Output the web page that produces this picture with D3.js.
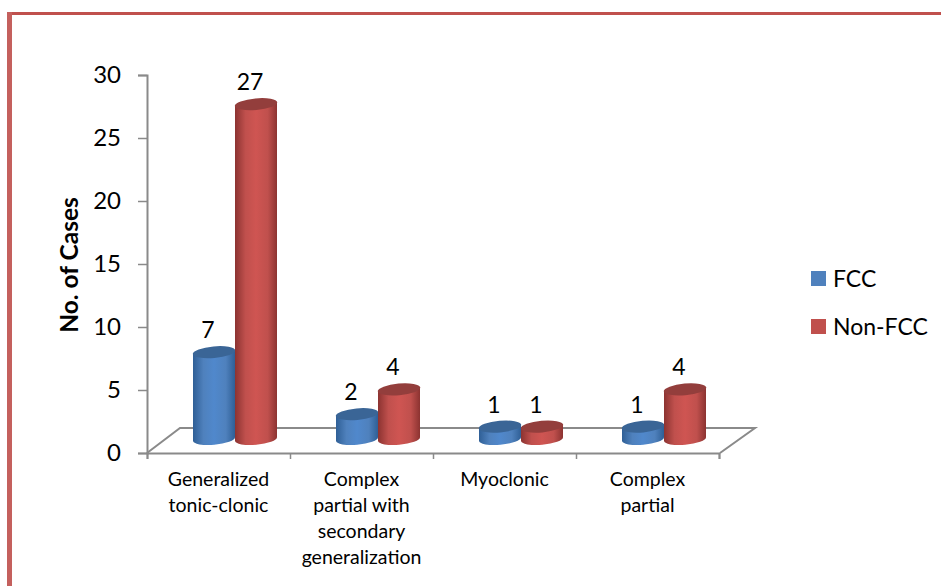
<!DOCTYPE html>
<html>
<head>
<meta charset="utf-8">
<script src="https://cdn.jsdelivr.net/npm/d3@7"></script>
<style>
  html, body { margin: 0; padding: 0; background: #fff; }
  svg { display: block; }
  text { font-family: Lato, "Open Sans", sans-serif; fill: #000; }
</style>
</head>
<body>
<svg id="chart" width="941" height="586"></svg>
<script>
const categories = [
  ['Generalized', 'tonic-clonic'],
  ['Complex', 'partial with', 'secondary', 'generalization'],
  ['Myoclonic'],
  ['Complex', 'partial']
]
const seriesNames = ['FCC', 'Non-FCC']
const fccValues = [7, 2, 1, 1]
const nonFccValues = [27, 4, 1, 4]
const yTicks = [0, 5, 10, 15, 20, 25, 30]

const colors = {
  'FCC': { mid: '#4f81bd', edge: '#2f5f96', light: '#5088cc', top: '#3a6596' },
  'Non-FCC': { mid: '#c0504d', edge: '#8c3331', light: '#cf5552', top: '#933e3c' }
}

const svg = d3.select('#chart')
const axisColor = '#8a8a8a'

// frame
svg.append('rect').attr('x', 7).attr('y', 12).attr('width', 934).attr('height', 3).attr('fill', '#c0504d')
svg.append('rect').attr('x', 7).attr('y', 12).attr('width', 5).attr('height', 574).attr('fill', '#c4605d')

const plotLeft = 147
const plotRight = 719
const plotTop = 75
const plotBottom = 453
const depthX = 34
const depthY = 25

const y = d3.scaleLinear().domain([0, 30]).range([plotBottom, plotTop])
const xAxisScale = d3.scaleLinear().domain([0, 4]).range([plotLeft, plotRight])
const x0 = d3.scaleBand().domain(d3.range(categories.length)).range([plotLeft, plotRight])
// bars stand mid-way into the floor, so they sit right of and above the axis
const x1 = d3.scaleBand().domain(seriesNames).range([46, 130]).paddingInner(0)
const barY = d3.scaleLinear().domain([0, 30]).range([439, 67])

// floor
svg.append('path')
  .attr('d', `M${plotLeft},${plotBottom}L${plotLeft + depthX - 1},${plotBottom - depthY}H${plotRight + depthX + 2}L${plotRight + 1},${plotBottom}`)
  .attr('fill', 'none')
  .attr('stroke', axisColor)
  .attr('stroke-width', 2)

const yAxis = svg.append('g')
  .attr('transform', `translate(${plotLeft},0)`)
  .call(d3.axisLeft(y).tickValues(yTicks).tickSize(9).tickPadding(17))
const xAxis = svg.append('g')
  .attr('transform', `translate(0,${plotBottom})`)
  .call(d3.axisBottom(xAxisScale).ticks(4).tickSize(6).tickFormat(''))
svg.selectAll('.domain').attr('stroke', axisColor).attr('stroke-width', 2)
svg.selectAll('.tick line').attr('stroke', axisColor).attr('stroke-width', 1.5)
yAxis.selectAll('text').attr('font-size', 24).style('font-family', 'Lato, sans-serif').attr('fill', '#000')

svg.append('text')
  .attr('transform', 'translate(78,265) rotate(-90)')
  .attr('text-anchor', 'middle')
  .attr('font-size', 24.5)
  .attr('font-weight', 700)
  .text('No. of Cases')

// gradients
const defs = svg.append('defs')
seriesNames.forEach((name, i) => {
  const c = colors[name]
  const g = defs.append('linearGradient').attr('id', 'cyl' + i)
  g.append('stop').attr('offset', '0%').attr('stop-color', c.edge)
  g.append('stop').attr('offset', '25%').attr('stop-color', c.mid)
  g.append('stop').attr('offset', '50%').attr('stop-color', c.light)
  g.append('stop').attr('offset', '78%').attr('stop-color', c.mid)
  g.append('stop').attr('offset', '100%').attr('stop-color', c.edge)
})

const rows = d3.range(categories.length).flatMap(i => [
  { cat: i, name: 'FCC', value: fccValues[i], s: 0 },
  { cat: i, name: 'Non-FCC', value: nonFccValues[i], s: 1 }
])

const tiltDeg = -5
const tilt = 1.8
const ry = 5.8
const bars = svg.append('g').selectAll('g').data(rows).join('g')
  .attr('transform', d => `translate(${x0(d.cat) + x1(d.name)},0)`)

bars.append('path')
  .attr('fill', d => `url(#cyl${d.s})`)
  .attr('d', d => {
    const w = x1.bandwidth()
    const yb = barY(0)
    const yt = barY(d.value)
    return `M0,${yt + tilt}L0,${yb + tilt}A${w / 2},${ry} ${tiltDeg} 0 0 ${w},${yb - tilt}L${w},${yt - tilt}Z`
  })

bars.append('ellipse')
  .attr('cx', x1.bandwidth() / 2)
  .attr('cy', d => barY(d.value))
  .attr('rx', x1.bandwidth() / 2 + 0.3)
  .attr('ry', ry)
  .attr('transform', d => `rotate(${tiltDeg} ${x1.bandwidth() / 2} ${barY(d.value)})`)
  .attr('fill', d => colors[d.name].top)

bars.append('text')
  .attr('x', x1.bandwidth() / 2 - 6)
  .attr('y', d => barY(d.value) - 22)
  .attr('dy', '0.35em')
  .attr('text-anchor', 'middle')
  .attr('font-size', 23)
  .text(d => d.value)

// category labels
const catLabels = svg.append('g').selectAll('text').data(categories).join('text')
  .attr('text-anchor', 'middle')
  .attr('font-size', 19.5)
  .attr('y', 486)
catLabels.each(function (lines, i) {
  d3.select(this).selectAll('tspan').data(lines).join('tspan')
    .attr('x', x0(i) + x0.bandwidth() / 2)
    .attr('dy', (d, j) => (j === 0 ? 0 : 26))
    .text(d => d)
})

// legend
const legendY = d3.scalePoint().domain(seriesNames).range([278.5, 326.5])
const legend = svg.append('g').selectAll('g').data(seriesNames).join('g')
  .attr('transform', d => `translate(811,${legendY(d)})`)
legend.append('rect')
  .attr('y', -7.5).attr('width', 15).attr('height', 15)
  .attr('fill', d => colors[d].mid)
legend.append('text')
  .attr('x', 22)
  .attr('dy', '0.35em')
  .attr('font-size', 23)
  .text(d => d)
</script>
</body>
</html>
